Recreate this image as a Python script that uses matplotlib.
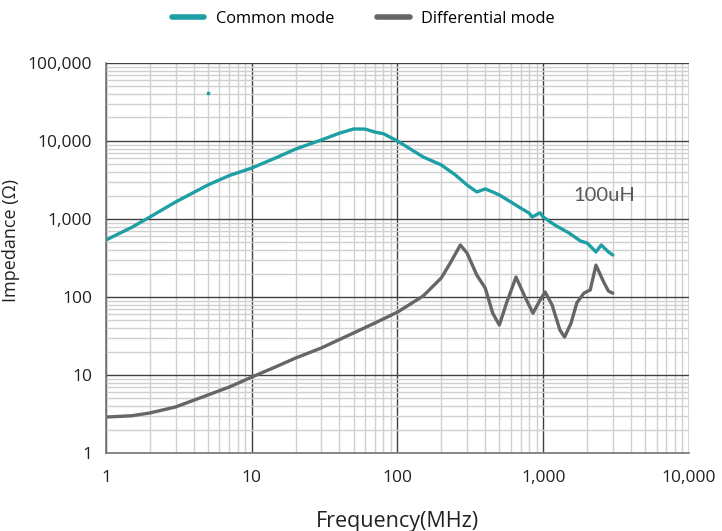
import numpy as np
import matplotlib
matplotlib.use('Agg')
from matplotlib import pyplot as plt
from matplotlib.ticker import FixedLocator, LogLocator, NullFormatter

# Common mode impedance curve (MHz, ohm)
cm_freq = [1, 1.5, 2, 3, 5, 7, 10, 15, 20, 30, 40, 50, 60, 70, 80, 100,
           150, 200, 250, 300, 350, 400, 450, 500, 600, 700, 800, 840,
           950, 1000, 1200, 1500, 1800, 2000, 2300, 2500, 2800, 3000]
cm_imp = [538, 780, 1060, 1650, 2730, 3600, 4500, 6200, 7890, 10300, 12600,
          14250, 14200, 13000, 12400, 10000, 6240, 4920, 3660, 2730, 2220,
          2430, 2220, 2030, 1650, 1380, 1190, 1060, 1200, 1060, 837, 662,
          522, 492, 378, 464, 378, 345]

# Differential mode impedance curve (MHz, ohm)
dm_freq = [1, 1.5, 2, 3, 5, 7, 10, 15, 20, 30, 50, 70, 100, 150, 200, 230,
           270, 300, 350, 400, 450, 500, 560, 650, 750, 850, 950, 1030,
           1150, 1300, 1400, 1550, 1700, 1900, 2100, 2300, 2600, 2800, 3000]
dm_imp = [2.89, 3.0, 3.26, 3.89, 5.54, 7.0, 9.4, 13.0, 16.5, 22.2, 34.6,
          46.4, 64, 103, 176, 272, 464, 366, 191, 130, 62, 43.7, 84, 180,
          100, 62, 91, 116, 79, 37.8, 30.6, 46, 84, 112, 123, 256, 155,
          119, 112]

# stray point in the original
stray_freq = [5]
stray_imp = [41000]

x_ticks = [1, 10, 100, 1000, 10000]
x_labels = ['1', '10', '100', '1,000', '10,000']
y_ticks = [1, 10, 100, 1000, 10000, 100000]
y_labels = ['1', '10', '100', '1,000', '10,000', '100,000']

teal = '#1d9fa4'
grey = '#666666'

plt.rcParams['font.family'] = ['Open Sans', 'DejaVu Sans']

fig = plt.figure(figsize=(7.22, 5.31), dpi=100)
ax = fig.add_axes([0.1468, 0.1469, 0.9543 - 0.1468, 0.8814 - 0.1469])
ax.set_xscale('log')
ax.set_yscale('log')
ax.set_xlim(1, 10000)
ax.set_ylim(1, 100000)

ax.xaxis.set_major_locator(FixedLocator(x_ticks))
ax.yaxis.set_major_locator(FixedLocator(y_ticks))
ax.xaxis.set_minor_locator(LogLocator(base=10, subs=np.arange(2, 10)))
ax.yaxis.set_minor_locator(LogLocator(base=10, subs=np.arange(2, 10)))
ax.xaxis.set_minor_formatter(NullFormatter())
ax.yaxis.set_minor_formatter(NullFormatter())
ax.set_xticklabels(x_labels)
ax.set_yticklabels(y_labels)
ax.tick_params(which='both', length=0, labelsize=12.5, colors='#222222')
ax.tick_params(axis='x', pad=12)
ax.tick_params(axis='y', pad=10)

ax.grid(which='minor', color='#d0d0d0', linewidth=1.0)
ax.grid(which='major', color='#404040', linewidth=1.0)
ax.set_axisbelow(True)
for side in ['top', 'right']:
    ax.spines[side].set_visible(False)
for side in ['left', 'bottom']:
    ax.spines[side].set_color('#777777')
    ax.spines[side].set_linewidth(1.2)

ax.plot(cm_freq, cm_imp, color=teal, linewidth=2.4, label='Common mode',
        solid_capstyle='round')
ax.plot(dm_freq, dm_imp, color=grey, linewidth=2.4, label='Differential mode',
        solid_capstyle='round')
ax.plot(stray_freq, stray_imp, 's', color=teal, markersize=2)

ax.text(1600, 2000, '100uH', fontsize=14.5, color='#5a5a5a',
        family=['Lato', 'DejaVu Sans'], va='center', ha='left', zorder=5)

ax.set_xlabel('Frequency(MHz)', fontsize=15.5, color='#222222', labelpad=18)
ax.set_ylabel('Impedance (Ω)', fontsize=13, color='#222222')
ax.yaxis.set_label_coords(-0.147, 0.546)

leg = fig.legend(loc='center', bbox_to_anchor=(0.503, 0.965), ncol=2,
                 frameon=False, fontsize=11.8, handlelength=2.0,
                 handletextpad=0.7, columnspacing=2.6)
for line in leg.get_lines():
    line.set_linewidth(4)

plt.savefig('out.png', dpi=100)
